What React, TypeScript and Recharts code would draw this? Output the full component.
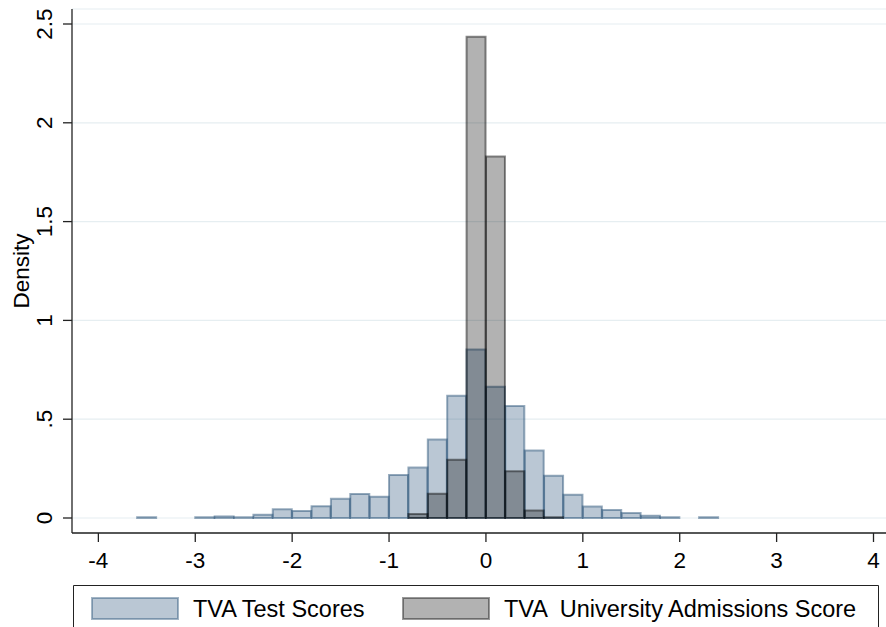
import { Bar, BarChart, CartesianGrid, Legend, XAxis, YAxis } from 'recharts';

// histogram bins, width 0.2, centres from -4.1 to 3.9
const BIN_CENTERS = [
  -4.1, -3.9, -3.7, -3.5, -3.3, -3.1, -2.9, -2.7, -2.5, -2.3, -2.1, -1.9, -1.7, -1.5,
  -1.3, -1.1, -0.9, -0.7, -0.5, -0.3, -0.1, 0.1, 0.3, 0.5, 0.7, 0.9, 1.1, 1.3, 1.5,
  1.7, 1.9, 2.1, 2.3, 2.5, 2.7, 2.9, 3.1, 3.3, 3.5, 3.7, 3.9,
];

const TEST_SCORES = [
  0, 0, 0, 0.004, 0, 0, 0.004, 0.008, 0.004, 0.017, 0.044, 0.036, 0.06, 0.097,
  0.122, 0.108, 0.218, 0.255, 0.397, 0.619, 0.853, 0.664, 0.567, 0.341, 0.214, 0.118, 0.058, 0.041, 0.025,
  0.012, 0.004, 0, 0.004, 0, 0, 0, 0, 0, 0, 0, 0,
];

const ADMISSIONS = [
  0, 0, 0, 0, 0, 0, 0, 0, 0, 0, 0, 0, 0, 0,
  0, 0, 0, 0.02, 0.123, 0.295, 2.436, 1.829, 0.236, 0.038, 0.004, 0, 0, 0, 0,
  0, 0, 0, 0, 0, 0, 0, 0, 0, 0, 0, 0,
];

const X_TICKS = [-4, -3, -2, -1, 0, 1, 2, 3, 4];
const Y_TICKS = [0, 0.5, 1, 1.5, 2, 2.5];

const SERIES = [
  { key: 'test', name: 'TVA Test Scores', color: '#1a476f', axis: 'c1' },
  { key: 'adm', name: 'TVA  University Admissions Score', color: '#000000', axis: 'c2' },
];

const FONT = '"Liberation Sans", Arial, Helvetica, sans-serif';
const FS = 22.5;
const LEGEND_FS = 23.5;
const AXIS = '#222';

const data = BIN_CENTERS.map((x, i) => ({ x, test: TEST_SCORES[i], adm: ADMISSIONS[i] }));

const fmtY = (v: number) => (v === 0.5 ? '.5' : String(v));

function YTick({ x, y, payload }: any) {
  return (
    <text
      x={x}
      y={y}
      transform={`rotate(-90, ${x}, ${y})`}
      textAnchor="middle"
      fontFamily={FONT}
      fontSize={FS}
      fill="#000"
    >
      {fmtY(payload.value)}
    </text>
  );
}

function DensityLabel({ viewBox }: any) {
  const cx = 29;
  const cy = viewBox.y + viewBox.height / 2;
  return (
    <text
      x={cx}
      y={cy}
      transform={`rotate(-90, ${cx}, ${cy})`}
      textAnchor="middle"
      fontFamily={FONT}
      fontSize={FS}
      fill="#000"
    >
      Density
    </text>
  );
}

function StataLegend() {
  const swatchX = [92, 403];
  const textX = [193, 504];
  return (
    <svg width={886} height={42} style={{ display: 'block' }}>
      <path d="M73.5 42 V0.5 H878.5 V42" fill="none" stroke={AXIS} strokeWidth={1} />
      {SERIES.map((s, i) => (
        <g key={s.key}>
          <rect
            x={swatchX[i]}
            y={13}
            width={86}
            height={21}
            fill={s.color}
            fillOpacity={0.3}
            stroke={s.color}
            strokeOpacity={0.4}
            strokeWidth={2}
          />
          <text
            x={textX[i]}
            y={32}
            fontFamily={FONT}
            fontSize={LEGEND_FS}
            fill="#000"
            style={{ whiteSpace: 'pre' }}
          >
            {s.name}
          </text>
        </g>
      ))}
    </svg>
  );
}

export default function App() {
  const pad = { left: 7, right: 12.5 };
  return (
    <div style={{ position: 'absolute', left: 0, top: 0, width: 886, height: 627, background: '#fff' }}>
      <BarChart
        width={886}
        height={627}
        data={data}
        margin={{ top: 9, right: 0, bottom: 0, left: 0 }}
        barCategoryGap={0}
        barGap={0}
      >
        <CartesianGrid xAxisId="n" vertical={false} stroke="#e6eef1" strokeWidth={1.2} />
        <XAxis
          xAxisId="n"
          dataKey="x"
          type="number"
          domain={[-4.2, 4.0]}
          allowDataOverflow
          ticks={X_TICKS}
          padding={pad}
          height={52}
          tickSize={9}
          tickMargin={10}
          axisLine={{ stroke: AXIS, strokeWidth: 1.3 }}
          tickLine={{ stroke: AXIS, strokeWidth: 1.3 }}
          tick={{ fontFamily: FONT, fontSize: FS, fill: '#000' }}
        />
        <XAxis xAxisId="c1" dataKey="x" type="category" hide height={0} padding={pad} />
        <XAxis xAxisId="c2" dataKey="x" type="category" hide height={0} padding={pad} />
        <YAxis
          domain={[0, 2.5]}
          ticks={Y_TICKS}
          padding={{ top: 15, bottom: 15 }}
          width={72}
          tickSize={9}
          tickMargin={11}
          axisLine={{ stroke: AXIS, strokeWidth: 1.3 }}
          tickLine={{ stroke: AXIS, strokeWidth: 1.3 }}
          tick={<YTick />}
          label={<DensityLabel />}
        />
        {SERIES.map((s) => (
          <Bar
            key={s.key}
            xAxisId={s.axis}
            dataKey={s.key}
            name={s.name}
            fill={s.color}
            fillOpacity={0.3}
            stroke={s.color}
            strokeOpacity={0.45}
            strokeWidth={2}
            isAnimationActive={false}
          />
        ))}
        <Legend content={<StataLegend />} wrapperStyle={{ left: 0, bottom: 0, width: 886 }} />
      </BarChart>
    </div>
  );
}
